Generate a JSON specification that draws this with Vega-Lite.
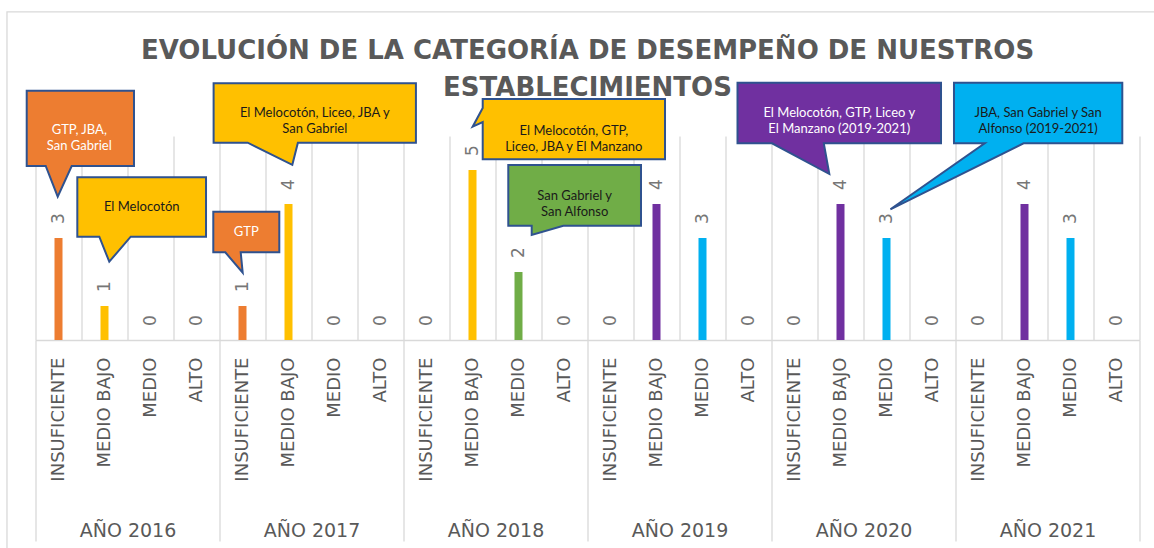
{
  "$schema": "https://vega.github.io/schema/vega-lite/v6.json",
  "autosize": {"type": "none"},
  "width": 1104,
  "height": 204,
  "padding": {"left": 35.5, "top": 136, "right": 14.5, "bottom": 208},
  "background": "white",
  "config": {"view": {"stroke": null}},
  "title": {
    "text": ["EVOLUCIÓN DE LA CATEGORÍA DE DESEMPEÑO DE NUESTROS", "ESTABLECIMIENTOS"],
    "font": "DejaVu Sans",
    "fontSize": 26,
    "fontWeight": "bold",
    "color": "#595959",
    "anchor": "middle",
    "frame": "group",
    "lineHeight": 37,
    "offset": -90
  },
  "datasets": {
    "barras": [
      {"anio": "AÑO 2016", "categoria": "INSUFICIENTE", "clave": "2016|INSUFICIENTE", "valor": 3, "tono": "naranja"},
      {"anio": "AÑO 2016", "categoria": "MEDIO BAJO", "clave": "2016|MEDIO BAJO", "valor": 1, "tono": "amarillo"},
      {"anio": "AÑO 2016", "categoria": "MEDIO", "clave": "2016|MEDIO", "valor": 0, "tono": "gris"},
      {"anio": "AÑO 2016", "categoria": "ALTO", "clave": "2016|ALTO", "valor": 0, "tono": "gris"},
      {"anio": "AÑO 2017", "categoria": "INSUFICIENTE", "clave": "2017|INSUFICIENTE", "valor": 1, "tono": "naranja"},
      {"anio": "AÑO 2017", "categoria": "MEDIO BAJO", "clave": "2017|MEDIO BAJO", "valor": 4, "tono": "amarillo"},
      {"anio": "AÑO 2017", "categoria": "MEDIO", "clave": "2017|MEDIO", "valor": 0, "tono": "gris"},
      {"anio": "AÑO 2017", "categoria": "ALTO", "clave": "2017|ALTO", "valor": 0, "tono": "gris"},
      {"anio": "AÑO 2018", "categoria": "INSUFICIENTE", "clave": "2018|INSUFICIENTE", "valor": 0, "tono": "gris"},
      {"anio": "AÑO 2018", "categoria": "MEDIO BAJO", "clave": "2018|MEDIO BAJO", "valor": 5, "tono": "amarillo"},
      {"anio": "AÑO 2018", "categoria": "MEDIO", "clave": "2018|MEDIO", "valor": 2, "tono": "verde"},
      {"anio": "AÑO 2018", "categoria": "ALTO", "clave": "2018|ALTO", "valor": 0, "tono": "gris"},
      {"anio": "AÑO 2019", "categoria": "INSUFICIENTE", "clave": "2019|INSUFICIENTE", "valor": 0, "tono": "gris"},
      {"anio": "AÑO 2019", "categoria": "MEDIO BAJO", "clave": "2019|MEDIO BAJO", "valor": 4, "tono": "morado"},
      {"anio": "AÑO 2019", "categoria": "MEDIO", "clave": "2019|MEDIO", "valor": 3, "tono": "celeste"},
      {"anio": "AÑO 2019", "categoria": "ALTO", "clave": "2019|ALTO", "valor": 0, "tono": "gris"},
      {"anio": "AÑO 2020", "categoria": "INSUFICIENTE", "clave": "2020|INSUFICIENTE", "valor": 0, "tono": "gris"},
      {"anio": "AÑO 2020", "categoria": "MEDIO BAJO", "clave": "2020|MEDIO BAJO", "valor": 4, "tono": "morado"},
      {"anio": "AÑO 2020", "categoria": "MEDIO", "clave": "2020|MEDIO", "valor": 3, "tono": "celeste"},
      {"anio": "AÑO 2020", "categoria": "ALTO", "clave": "2020|ALTO", "valor": 0, "tono": "gris"},
      {"anio": "AÑO 2021", "categoria": "INSUFICIENTE", "clave": "2021|INSUFICIENTE", "valor": 0, "tono": "gris"},
      {"anio": "AÑO 2021", "categoria": "MEDIO BAJO", "clave": "2021|MEDIO BAJO", "valor": 4, "tono": "morado"},
      {"anio": "AÑO 2021", "categoria": "MEDIO", "clave": "2021|MEDIO", "valor": 3, "tono": "celeste"},
      {"anio": "AÑO 2021", "categoria": "ALTO", "clave": "2021|ALTO", "valor": 0, "tono": "gris"}
    ],
    "marco": [
      {"x0": -0.62, "x1": 25.5, "y0": 9.65, "y1": -7.5}
    ],
    "globos": [
      {"globo": "b1", "tono": "naranja", "vertice": 1, "gx": -0.191, "gy": 7.332},
      {"globo": "b1", "tono": "naranja", "vertice": 2, "gx": 2.141, "gy": 7.332},
      {"globo": "b1", "tono": "naranja", "vertice": 3, "gx": 2.141, "gy": 5.118},
      {"globo": "b1", "tono": "naranja", "vertice": 4, "gx": 0.787, "gy": 5.118},
      {"globo": "b1", "tono": "naranja", "vertice": 5, "gx": 0.483, "gy": 4.215},
      {"globo": "b1", "tono": "naranja", "vertice": 6, "gx": 0.222, "gy": 5.118},
      {"globo": "b1", "tono": "naranja", "vertice": 7, "gx": -0.191, "gy": 5.118},
      {"globo": "b2", "tono": "amarillo", "vertice": 1, "gx": 0.909, "gy": 4.785},
      {"globo": "b2", "tono": "amarillo", "vertice": 2, "gx": 3.707, "gy": 4.785},
      {"globo": "b2", "tono": "amarillo", "vertice": 3, "gx": 3.707, "gy": 3.038},
      {"globo": "b2", "tono": "amarillo", "vertice": 4, "gx": 2.070, "gy": 3.038},
      {"globo": "b2", "tono": "amarillo", "vertice": 5, "gx": 1.604, "gy": 2.303},
      {"globo": "b2", "tono": "amarillo", "vertice": 6, "gx": 1.387, "gy": 3.038},
      {"globo": "b2", "tono": "amarillo", "vertice": 7, "gx": 0.909, "gy": 3.038},
      {"globo": "b3", "tono": "naranja", "vertice": 1, "gx": 3.865, "gy": 3.774},
      {"globo": "b3", "tono": "naranja", "vertice": 2, "gx": 5.300, "gy": 3.774},
      {"globo": "b3", "tono": "naranja", "vertice": 3, "gx": 5.300, "gy": 2.579},
      {"globo": "b3", "tono": "naranja", "vertice": 4, "gx": 4.461, "gy": 2.579},
      {"globo": "b3", "tono": "naranja", "vertice": 5, "gx": 4.504, "gy": 1.979},
      {"globo": "b3", "tono": "naranja", "vertice": 6, "gx": 4.126, "gy": 2.579},
      {"globo": "b3", "tono": "naranja", "vertice": 7, "gx": 3.865, "gy": 2.579},
      {"globo": "b4", "tono": "amarillo", "vertice": 1, "gx": 3.872, "gy": 7.550},
      {"globo": "b4", "tono": "amarillo", "vertice": 2, "gx": 8.270, "gy": 7.550},
      {"globo": "b4", "tono": "amarillo", "vertice": 3, "gx": 8.270, "gy": 5.803},
      {"globo": "b4", "tono": "amarillo", "vertice": 4, "gx": 5.704, "gy": 5.803},
      {"globo": "b4", "tono": "amarillo", "vertice": 5, "gx": 5.583, "gy": 5.153},
      {"globo": "b4", "tono": "amarillo", "vertice": 6, "gx": 4.613, "gy": 5.803},
      {"globo": "b4", "tono": "amarillo", "vertice": 7, "gx": 3.872, "gy": 5.803},
      {"globo": "b5", "tono": "amarillo", "vertice": 1, "gx": 9.722, "gy": 7.088},
      {"globo": "b5", "tono": "amarillo", "vertice": 2, "gx": 13.685, "gy": 7.088},
      {"globo": "b5", "tono": "amarillo", "vertice": 3, "gx": 13.685, "gy": 5.315},
      {"globo": "b5", "tono": "amarillo", "vertice": 4, "gx": 9.722, "gy": 5.315},
      {"globo": "b5", "tono": "amarillo", "vertice": 5, "gx": 9.722, "gy": 6.412},
      {"globo": "b5", "tono": "amarillo", "vertice": 6, "gx": 9.504, "gy": 6.274},
      {"globo": "b5", "tono": "amarillo", "vertice": 7, "gx": 9.722, "gy": 6.824},
      {"globo": "b6", "tono": "verde", "vertice": 1, "gx": 10.278, "gy": 5.147},
      {"globo": "b6", "tono": "verde", "vertice": 2, "gx": 13.163, "gy": 5.147},
      {"globo": "b6", "tono": "verde", "vertice": 3, "gx": 13.163, "gy": 3.362},
      {"globo": "b6", "tono": "verde", "vertice": 4, "gx": 11.474, "gy": 3.362},
      {"globo": "b6", "tono": "verde", "vertice": 5, "gx": 10.787, "gy": 3.088},
      {"globo": "b6", "tono": "verde", "vertice": 6, "gx": 10.787, "gy": 3.362},
      {"globo": "b6", "tono": "verde", "vertice": 7, "gx": 10.278, "gy": 3.362},
      {"globo": "b7", "tono": "morado", "vertice": 1, "gx": 15.261, "gy": 7.568},
      {"globo": "b7", "tono": "morado", "vertice": 2, "gx": 19.685, "gy": 7.568},
      {"globo": "b7", "tono": "morado", "vertice": 3, "gx": 19.685, "gy": 5.785},
      {"globo": "b7", "tono": "morado", "vertice": 4, "gx": 17.137, "gy": 5.785},
      {"globo": "b7", "tono": "morado", "vertice": 5, "gx": 17.257, "gy": 4.882},
      {"globo": "b7", "tono": "morado", "vertice": 6, "gx": 16.011, "gy": 5.785},
      {"globo": "b7", "tono": "morado", "vertice": 7, "gx": 15.261, "gy": 5.785},
      {"globo": "b8", "tono": "celeste", "vertice": 1, "gx": 19.967, "gy": 7.568},
      {"globo": "b8", "tono": "celeste", "vertice": 2, "gx": 23.626, "gy": 7.568},
      {"globo": "b8", "tono": "celeste", "vertice": 3, "gx": 23.626, "gy": 5.785},
      {"globo": "b8", "tono": "celeste", "vertice": 4, "gx": 21.480, "gy": 5.785},
      {"globo": "b8", "tono": "celeste", "vertice": 5, "gx": 18.585, "gy": 3.844},
      {"globo": "b8", "tono": "celeste", "vertice": 6, "gx": 20.635, "gy": 5.785},
      {"globo": "b8", "tono": "celeste", "vertice": 7, "gx": 19.967, "gy": 5.785}
    ],
    "textos": [
      {"globo": "b1", "tono": "naranja", "tx": 0.952, "ty": 6.176, "texto": "GTP,  JBA,\nSan Gabriel"},
      {"globo": "b2", "tono": "amarillo", "tx": 2.309, "ty": 3.912, "texto": "El Melocotón"},
      {"globo": "b3", "tono": "naranja", "tx": 4.583, "ty": 3.176, "texto": "GTP"},
      {"globo": "b4", "tono": "amarillo", "tx": 6.071, "ty": 6.676, "texto": "El Melocotón,  Liceo, JBA y\nSan Gabriel"},
      {"globo": "b5", "tono": "amarillo", "tx": 11.703, "ty": 6.156, "texto": "El Melocotón,  GTP,\nLiceo,  JBA y El Manzano"},
      {"globo": "b6", "tono": "verde", "tx": 11.721, "ty": 4.235, "texto": "San Gabriel  y\nSan Alfonso"},
      {"globo": "b7", "tono": "morado", "tx": 17.473, "ty": 6.676, "texto": "El Melocotón,  GTP, Liceo y\nEl Manzano (2019-2021)"},
      {"globo": "b8", "tono": "celeste", "tx": 21.797, "ty": 6.676, "texto": "JBA, San Gabriel y San\nAlfonso (2019-2021)"}
    ]
  },
  "resolve": {"scale": {"x": "independent", "y": "independent"}, "axis": {"x": "independent"}},
  "layer": [
    {
      "data": {"name": "barras"},
      "encoding": {
        "x": {
          "field": "clave", "type": "nominal", "sort": null,
          "scale": {"paddingInner": 0, "paddingOuter": 0},
          "axis": {
            "title": null,
            "labelExpr": "split(datum.label, '|')[1]",
            "labelAngle": 270,
            "labelAlign": "right",
            "labelBaseline": "middle",
            "labelPadding": 17,
            "labelFont": "DejaVu Sans",
            "labelFontSize": 18,
            "labelColor": "#595959",
            "labelOverlap": false,
            "labelLimit": 0,
            "ticks": false,
            "tickSize": 0,
            "tickBand": "extent",
            "grid": true,
            "gridColor": "#d9d9d9",
            "gridWidth": 1.3,
            "domain": true,
            "domainColor": "#d9d9d9",
            "domainWidth": 1.3
          }
        },
        "y": {"field": "valor", "type": "quantitative", "stack": null, "scale": {"domain": [0, 6], "nice": false}, "axis": null}
      },
      "layer": [
        {
          "mark": {"type": "bar", "width": 8},
          "encoding": {
            "color": {
              "field": "tono", "type": "nominal",
              "scale": {"domain": ["naranja", "amarillo", "verde", "morado", "celeste", "gris"], "range": ["#ED7D31", "#FFC000", "#70AD47", "#7030A0", "#00B0F0", "#d9d9d9"]},
              "legend": null
            }
          }
        },
        {
          "mark": {"type": "text", "angle": 270, "align": "left", "baseline": "middle", "dx": 14, "font": "DejaVu Sans", "fontSize": 17, "color": "#767676"},
          "encoding": {"text": {"field": "valor", "type": "quantitative"}}
        }
      ]
    },
    {
      "data": {"name": "barras"},
      "mark": {"type": "text", "text": " ", "opacity": 0},
      "encoding": {
        "x": {
          "field": "anio", "type": "nominal", "sort": null,
          "scale": {"paddingInner": 0, "paddingOuter": 0},
          "axis": {
            "orient": "bottom",
            "title": null,
            "labelAngle": 0,
            "labelFont": "DejaVu Sans",
            "labelFontSize": 19,
            "labelColor": "#595959",
            "labelPadding": -20,
            "ticks": true,
            "tickBand": "extent",
            "tickSize": 201,
            "tickColor": "#d9d9d9",
            "tickWidth": 1.3,
            "domain": false,
            "grid": false
          }
        }
      }
    },
    {
      "layer": [
        {
          "data": {"name": "marco"},
          "mark": {"type": "rect", "fillOpacity": 0, "stroke": "#d9d9d9", "strokeWidth": 1.3},
          "encoding": {
            "x": {"field": "x0", "type": "quantitative", "scale": {"domain": [0, 24], "nice": false, "zero": false}, "axis": null},
            "x2": {"field": "x1"},
            "y": {"field": "y0", "type": "quantitative", "scale": {"domain": [0, 6], "nice": false, "zero": false}, "axis": null},
            "y2": {"field": "y1"}
          }
        },
        {
          "data": {"name": "globos"},
          "mark": {"type": "line", "interpolate": "linear-closed", "stroke": "#2F528F", "strokeWidth": 2, "strokeJoin": "miter"},
          "encoding": {
            "x": {"field": "gx", "type": "quantitative", "scale": {"domain": [0, 24], "nice": false, "zero": false}, "axis": null},
            "y": {"field": "gy", "type": "quantitative", "scale": {"domain": [0, 6], "nice": false, "zero": false}, "axis": null},
            "detail": {"field": "globo"},
            "order": {"field": "vertice", "type": "quantitative"},
            "fill": {
              "field": "tono", "type": "nominal",
              "scale": {"domain": ["naranja", "amarillo", "verde", "morado", "celeste"], "range": ["#ED7D31", "#FFC000", "#70AD47", "#7030A0", "#00B0F0"]},
              "legend": null
            }
          }
        },
        {
          "data": {"name": "textos"},
          "mark": {"type": "text", "lineBreak": "\n", "font": "Lato", "fontSize": 13, "lineHeight": 16, "align": "center", "baseline": "middle"},
          "encoding": {
            "x": {"field": "tx", "type": "quantitative", "scale": {"domain": [0, 24], "nice": false, "zero": false}, "axis": null},
            "y": {"field": "ty", "type": "quantitative", "scale": {"domain": [0, 6], "nice": false, "zero": false}, "axis": null},
            "text": {"field": "texto"},
            "color": {"condition": {"test": "datum.tono === 'naranja' || datum.tono === 'morado'", "value": "#ffffff"}, "value": "#1a1a1a"}
          }
        }
      ]
    }
  ]
}
